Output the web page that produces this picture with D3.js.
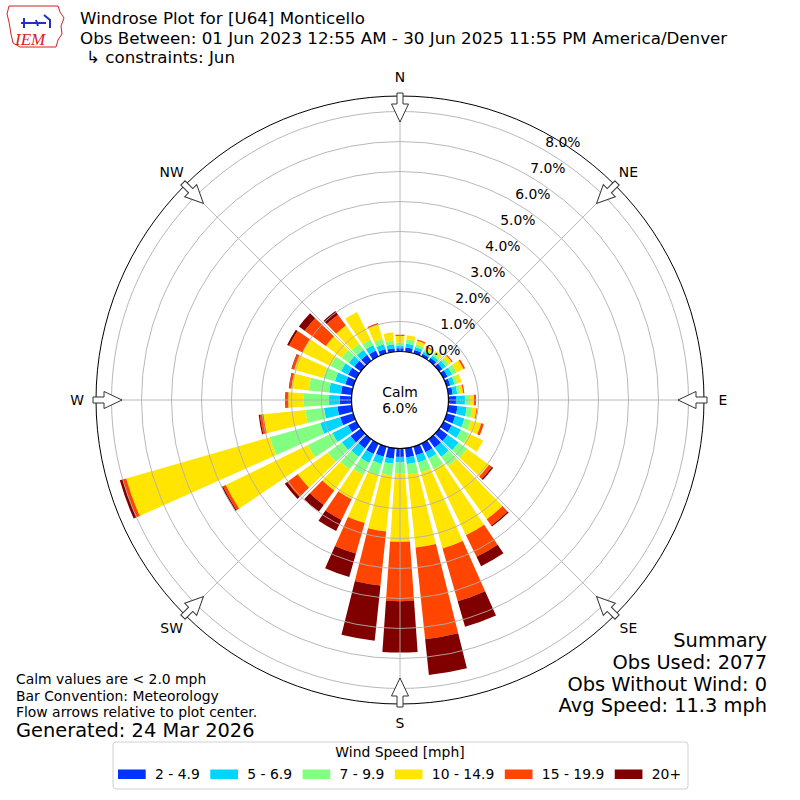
<!DOCTYPE html>
<html>
<head>
<meta charset="utf-8">
<script src="https://cdn.jsdelivr.net/npm/d3@7"></script>
<style>
  body { margin: 0; background: #fff; }
  svg { font-family: "DejaVu Sans", sans-serif; }
</style>
</head>
<body>
<div id="chart"></div>
<script>
// direction bins, meteorological degrees (wind from)
var directions = d3.range(0, 360, 10);
var compass = ["N", "NE", "E", "SE", "S", "SW", "W", "NW"];
var ringTicks = [0, 1, 2, 3, 4, 5, 6, 7, 8];

// speed classes and colours
var speedBins = ["2 - 4.9", "5 - 6.9", "7 - 9.9", "10 - 14.9", "15 - 19.9", "20+"];
var binColors = ["#0033ff", "#00d5ff", "#80ff80", "#ffe500", "#ff4500", "#800000"];

// frequency (%) per direction for each speed class
var spd2to5 = [0.11, 0.14, 0.12, 0.10, 0.12, 0.14, 0.15, 0.13, 0.15, 0.25, 0.31, 0.30,
  0.30, 0.35, 0.35, 0.32, 0.30, 0.31, 0.28, 0.35, 0.35, 0.39, 0.38, 0.42,
  0.31, 0.46, 0.48, 0.39, 0.36, 0.28, 0.31, 0.27, 0.25, 0.22, 0.15, 0.12];
var spd5to7 = [0.08, 0.13, 0.10, 0.08, 0.10, 0.14, 0.17, 0.15, 0.15, 0.30, 0.31, 0.32,
  0.35, 0.45, 0.37, 0.23, 0.25, 0.22, 0.19, 0.17, 0.25, 0.33, 0.34, 0.36,
  0.58, 0.69, 0.45, 0.36, 0.40, 0.36, 0.26, 0.22, 0.20, 0.20, 0.17, 0.13];
var spd7to10 = [0.11, 0.15, 0.10, 0.08, 0.08, 0.12, 0.16, 0.10, 0.10, 0.17, 0.18, 0.23,
  0.30, 0.35, 0.38, 0.40, 0.35, 0.34, 0.36, 0.40, 0.40, 0.45, 0.52, 0.58,
  0.91, 1.75, 0.62, 0.84, 0.68, 0.41, 0.39, 0.29, 0.25, 0.20, 0.18, 0.13];
var spd10to15 = [0.22, 0.13, 0.12, 0.09, 0.10, 0.12, 0.26, 0.14, 0.10, 0.13, 0.15, 0.35,
  0.52, 0.90, 2.20, 2.45, 2.63, 2.46, 2.28, 1.87, 1.65, 0.89, 0.87, 1.24,
  3.05, 4.98, 1.41, 0.52, 0.58, 1.00, 1.04, 0.66, 0.75, 1.03, 0.50, 0.27];
var spd15to20 = [0.04, 0.00, 0.04, 0.04, 0.00, 0.04, 0.06, 0.00, 0.04, 0.07, 0.03, 0.09,
  0.00, 0.12, 0.25, 0.80, 1.83, 3.07, 1.98, 1.81, 1.06, 0.77, 0.60, 0.43,
  0.10, 0.12, 0.12, 0.11, 0.07, 0.08, 0.50, 0.87, 0.45, 0.00, 0.05, 0.00];
var spd20plus = [0, 0, 0, 0, 0, 0, 0, 0, 0, 0, 0, 0,
  0, 0.05, 0.05, 0.35, 0.89, 1.20, 1.71, 1.85, 0.81, 0.41, 0.27, 0.10,
  0.05, 0.10, 0.04, 0, 0.02, 0.02, 0.07, 0.24, 0.15, 0, 0, 0];

var calmPct = 6.0;

var width = 800, height = 800;
var cx = 400, cy = 400;
var outerR = 304;

var svg = d3.select("#chart")
  .append("svg")
  .attr("width", width)
  .attr("height", height);

// build rows for the stack
var seriesData = [spd2to5, spd5to7, spd7to10, spd10to15, spd15to20, spd20plus];
var rows = directions.map(function(d, i) {
  var row = { dir: d };
  speedBins.forEach(function(b, j) { row[b] = seriesData[j][i]; });
  return row;
});
var stacked = d3.stack().keys(speedBins)(rows);

// radial scale: 0% sits on the calm circle
var r = d3.scaleLinear().domain([0, 8]).range([48.5, 288.5]);
var rad = Math.PI / 180;

var plot = svg.append("g").attr("transform", "translate(" + cx + "," + cy + ")");

var arc = d3.arc();
stacked.forEach(function(layer, j) {
  plot.append("g")
    .selectAll("path")
    .data(layer)
    .join("path")
    .attr("fill", binColors[j])
    .attr("d", function(d) {
      return arc({
        innerRadius: r(d[0]),
        outerRadius: r(d[1]),
        startAngle: (d.data.dir - 4) * rad,
        endAngle: (d.data.dir + 4) * rad
      });
    });
});

// grid on top of bars
plot.append("g")
  .selectAll("circle")
  .data(ringTicks.slice(1))
  .join("circle")
  .attr("r", function(d) { return r(d); })
  .attr("fill", "none")
  .attr("stroke", "#b0b0b0")
  .attr("stroke-width", 0.9);

plot.append("g")
  .selectAll("line")
  .data(d3.range(0, 360, 45))
  .join("line")
  .attr("x1", function(d) { return r(0) * Math.sin(d * rad); })
  .attr("y1", function(d) { return -r(0) * Math.cos(d * rad); })
  .attr("x2", function(d) { return outerR * Math.sin(d * rad); })
  .attr("y2", function(d) { return -outerR * Math.cos(d * rad); })
  .attr("stroke", "#b0b0b0")
  .attr("stroke-width", 0.9);

plot.append("circle")
  .attr("r", outerR)
  .attr("fill", "none")
  .attr("stroke", "#000")
  .attr("stroke-width", 1);

// calm circle
plot.append("circle")
  .attr("r", r(0))
  .attr("fill", "#fff")
  .attr("stroke", "#000")
  .attr("stroke-width", 1.2);

plot.append("text")
  .attr("text-anchor", "middle")
  .attr("y", -3.5)
  .attr("font-size", 13.9)
  .text("Calm");
plot.append("text")
  .attr("text-anchor", "middle")
  .attr("y", 12.5)
  .attr("font-size", 13.9)
  .text(calmPct.toFixed(1) + "%");

// ring labels
plot.append("g")
  .selectAll("text")
  .data(ringTicks)
  .join("text")
  .attr("x", function(d) { return r(d) * Math.sin(30 * rad) + 1; })
  .attr("y", function(d) { return -r(d) * Math.cos(30 * rad) - 3; })
  .attr("font-size", 13.9)
  .text(function(d) { return d.toFixed(1) + "%"; });

// flow arrows pointing to the centre
var arrowPath = "M-3,-307L3,-307L3,-296L8.5,-296L0,-278L-8.5,-296L-3,-296Z";
plot.append("g")
  .selectAll("path")
  .data(d3.range(0, 360, 45))
  .join("path")
  .attr("d", arrowPath)
  .attr("transform", function(d) { return "rotate(" + d + ")"; })
  .attr("fill", "#fff")
  .attr("stroke", "#333")
  .attr("stroke-width", 1);

// compass labels
plot.append("g")
  .selectAll("text")
  .data(compass)
  .join("text")
  .attr("x", function(d, i) { return 323 * Math.sin(i * 45 * rad); })
  .attr("y", function(d, i) { return -323 * Math.cos(i * 45 * rad); })
  .attr("text-anchor", "middle")
  .attr("dominant-baseline", "central")
  .attr("font-size", 13.9)
  .text(function(d) { return d; });

// header
var head = svg.append("g").attr("font-size", 16.7);
head.append("text").attr("x", 80).attr("y", 24.4).text("Windrose Plot for [U64] Monticello");
head.append("text").attr("x", 80).attr("y", 43.9).text("Obs Between: 01 Jun 2023 12:55 AM - 30 Jun 2025 11:55 PM America/Denver");
head.append("text").attr("x", 86).attr("y", 63.4).text("\u21b3 constraints: Jun");

// logo
var logo = svg.append("g");
logo.append("path")
  .attr("d", "M9,6L58,6L60,12L64,18L61,26L62,34L58,40L56,47L20,47L13,43L11,34L9,22L7,14Z")
  .attr("fill", "none")
  .attr("stroke", "#d62020")
  .attr("stroke-width", 1);
logo.append("path")
  .attr("d", "M21,23L46,23M24,18L24,28M44,15L50,20L50,28M36,20L38,26")
  .attr("fill", "none")
  .attr("stroke", "#2030c0")
  .attr("stroke-width", 2);
logo.append("text")
  .attr("x", 15).attr("y", 45)
  .attr("font-family", "Liberation Serif, serif")
  .attr("font-style", "italic")
  .attr("font-size", 17)
  .attr("fill", "#d62020")
  .text("IEM");

// summary block
var summary = ["Summary", "Obs Used: 2077", "Obs Without Wind: 0", "Avg Speed: 11.3 mph"];
svg.append("g")
  .selectAll("text")
  .data(summary)
  .join("text")
  .attr("x", 767)
  .attr("y", function(d, i) { return 647 + i * 21.8; })
  .attr("text-anchor", "end")
  .attr("font-size", 19.4)
  .text(function(d) { return d; });

// notes
var notes = ["Calm values are < 2.0 mph", "Bar Convention: Meteorology", "Flow arrows relative to plot center."];
svg.append("g")
  .selectAll("text")
  .data(notes)
  .join("text")
  .attr("x", 16)
  .attr("y", function(d, i) { return 684 + i * 16.5; })
  .attr("font-size", 13.9)
  .text(function(d) { return d; });
svg.append("text")
  .attr("x", 16).attr("y", 737)
  .attr("font-size", 19.4)
  .text("Generated: 24 Mar 2026");

// legend
var legend = svg.append("g");
legend.append("rect")
  .attr("x", 113).attr("y", 742)
  .attr("width", 575).attr("height", 47)
  .attr("rx", 3)
  .attr("fill", "#fff")
  .attr("stroke", "#d0d0d0");
legend.append("text")
  .attr("x", 400).attr("y", 757)
  .attr("text-anchor", "middle")
  .attr("font-size", 13.9)
  .text("Wind Speed [mph]");
var lx = 118;
speedBins.forEach(function(b, j) {
  legend.append("rect")
    .attr("x", lx).attr("y", 769.5)
    .attr("width", 27.7).attr("height", 9.5)
    .attr("fill", binColors[j]);
  var t = legend.append("text")
    .attr("x", lx + 37).attr("y", 779)
    .attr("font-size", 13.9)
    .text(b);
  lx += 37 + t.node().getComputedTextLength() + 10.5;
});
</script>
</body>
</html>
